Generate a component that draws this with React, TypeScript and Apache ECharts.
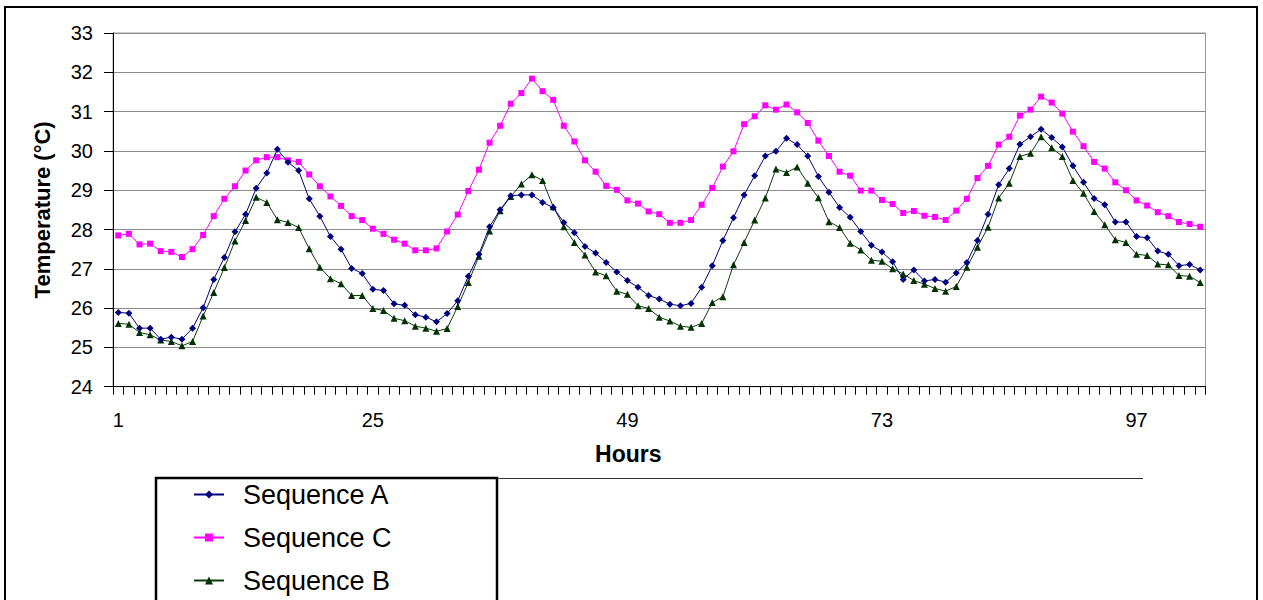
import React, { useEffect, useRef } from "react";
import * as echarts from "echarts";

const hours: string[] = Array.from({ length: 103 }, (_, i) => String(i + 1));

const seqA: number[] = [
  25.89, 25.87, 25.49, 25.49, 25.21, 25.26, 25.21, 25.49, 26.01, 26.73,
  27.29, 27.94, 28.39, 29.05, 29.44, 30.04, 29.71, 29.5, 28.78, 28.34,
  27.82, 27.5, 27.01, 26.88, 26.48, 26.45, 26.11, 26.07, 25.83, 25.77,
  25.65, 25.86, 26.19, 26.81, 27.37, 28.07, 28.5, 28.86, 28.88, 28.88,
  28.69, 28.56, 28.18, 27.92, 27.57, 27.4, 27.16, 26.92, 26.7, 26.53,
  26.32, 26.23, 26.1, 26.06, 26.12, 26.53, 27.08, 27.72, 28.3, 28.88,
  29.37, 29.87, 29.99, 30.32, 30.16, 29.87, 29.35, 28.95, 28.56, 28.31,
  27.95, 27.6, 27.43, 27.18, 26.73, 26.97, 26.69, 26.73, 26.66, 26.89,
  27.16, 27.72, 28.39, 29.14, 29.55, 30.17, 30.36, 30.55, 30.34, 30.1,
  29.62, 29.2, 28.79, 28.63, 28.19, 28.19, 27.82, 27.79, 27.45, 27.37,
  27.08, 27.11, 26.97,
];

const seqC: number[] = [
  27.85, 27.89, 27.62, 27.64, 27.45, 27.43, 27.3, 27.5, 27.86, 28.34,
  28.78, 29.1, 29.5, 29.76, 29.84, 29.84, 29.76, 29.72, 29.4, 29.1,
  28.84, 28.6, 28.34, 28.24, 28.02, 27.89, 27.74, 27.64, 27.47, 27.47,
  27.52, 27.95, 28.38, 28.98, 29.52, 30.21, 30.64, 31.2, 31.47, 31.84,
  31.52, 31.3, 30.64, 30.24, 29.76, 29.47, 29.11, 29.01, 28.74, 28.66,
  28.46, 28.39, 28.17, 28.17, 28.24, 28.63, 29.06, 29.6, 29.99, 30.68,
  30.88, 31.16, 31.05, 31.18, 30.98, 30.71, 30.26, 29.87, 29.47, 29.37,
  28.99, 28.99, 28.75, 28.65, 28.42, 28.47, 28.35, 28.32, 28.24, 28.48,
  28.78, 29.31, 29.62, 30.16, 30.36, 30.9, 31.05, 31.38, 31.23, 30.95,
  30.49, 30.12, 29.72, 29.55, 29.2, 29.0, 28.74, 28.61, 28.44, 28.34,
  28.19, 28.14, 28.07,
];

const seqB: number[] = [
  25.61, 25.59, 25.38, 25.32, 25.19, 25.15, 25.04, 25.15, 25.8, 26.4,
  27.03, 27.71, 28.23, 28.82, 28.69, 28.25, 28.18, 28.05, 27.51, 27.04,
  26.75, 26.62, 26.32, 26.32, 25.99, 25.94, 25.74, 25.68, 25.54, 25.49,
  25.41, 25.48, 26.04, 26.65, 27.32, 27.96, 28.48, 28.84, 29.16, 29.39,
  29.25, 28.58, 28.07, 27.67, 27.35, 26.92, 26.82, 26.43, 26.35, 26.06,
  25.99, 25.77, 25.67, 25.54, 25.51, 25.61, 26.14, 26.29, 27.1, 27.67,
  28.24, 28.8, 29.54, 29.45, 29.59, 29.18, 28.81, 28.2, 28.05, 27.65,
  27.48, 27.22, 27.19, 27.0, 26.87, 26.7, 26.61, 26.5, 26.43, 26.55,
  27.04, 27.55, 28.06, 28.8, 29.18, 29.86, 29.94, 30.36, 30.08, 29.86,
  29.25, 28.92, 28.46, 28.12, 27.74, 27.67, 27.37, 27.34, 27.12, 27.1,
  26.83, 26.81, 26.65,
];

const FONT = "'Liberation Sans', Arial, sans-serif";

export default function App() {
  const ref = useRef<HTMLDivElement>(null);

  useEffect(() => {
    if (!ref.current) return;
    const chart = echarts.init(ref.current, undefined, { renderer: "svg" });
    chart.setOption({
      animation: false,
      backgroundColor: "#ffffff",
      textStyle: { fontFamily: FONT },
      grid: {
        left: 113,
        top: 33,
        right: 57.5,
        bottom: 213.3,
        show: true,
        borderColor: "#999999",
        borderWidth: 1,
        containLabel: false,
      },
      legend: {
        orient: "vertical",
        left: 193,
        top: 481,
        itemWidth: 30,
        itemHeight: 10,
        itemGap: 16,
        padding: 0,
        data: ["Sequence A", "Sequence C", "Sequence B"],
        textStyle: {
          fontFamily: FONT,
          fontSize: 27,
          lineHeight: 27,
          color: "#000",
          padding: [0, 0, 0, 14],
        },
      },
      xAxis: {
        type: "category",
        data: hours,
        boundaryGap: true,
        name: "Hours",
        nameLocation: "middle",
        nameGap: 56,
        nameTextStyle: {
          fontFamily: FONT,
          fontSize: 23,
          fontWeight: "bold",
          color: "#000",
          padding: [0, 62, 0, 0],
        },
        axisLine: { lineStyle: { color: "#000", width: 1 } },
        axisTick: { show: true, interval: 0, length: 8, lineStyle: { color: "#000" } },
        axisLabel: { interval: 23, margin: 23, fontSize: 20, color: "#000", fontFamily: FONT },
        splitLine: { show: false },
      },
      yAxis: {
        type: "value",
        min: 24,
        max: 33,
        interval: 1,
        name: "Temperature (°C)",
        nameLocation: "middle",
        nameGap: 60,
        nameTextStyle: { fontFamily: FONT, fontSize: 22, fontWeight: "bold", color: "#000" },
        axisLine: { show: true, lineStyle: { color: "#000", width: 1 } },
        axisTick: { show: true, length: 9, lineStyle: { color: "#000" } },
        axisLabel: { margin: 20, fontSize: 20, color: "#000", fontFamily: FONT },
        splitLine: { show: true, lineStyle: { color: "#8c8c8c", width: 1 } },
      },
      series: [
        {
          name: "Sequence A",
          type: "line",
          data: seqA,
          symbol: "diamond",
          symbolSize: 7,
          lineStyle: { color: "#000080", width: 1 },
          itemStyle: { color: "#000080" },
          z: 3,
        },
        {
          name: "Sequence C",
          type: "line",
          data: seqC,
          symbol: "rect",
          symbolSize: 6,
          lineStyle: { color: "#ff00ff", width: 1 },
          itemStyle: { color: "#ff00ff" },
          z: 2,
        },
        {
          name: "Sequence B",
          type: "line",
          data: seqB,
          symbol: "triangle",
          symbolSize: 7,
          lineStyle: { color: "#0b3d0b", width: 1 },
          itemStyle: { color: "#003300" },
          z: 2,
        },
      ],
      graphic: [
        {
          type: "rect",
          shape: { x: 5, y: 7, width: 1252, height: 640 },
          style: { fill: "none", stroke: "#000", lineWidth: 2 },
          silent: true,
        },
        {
          type: "rect",
          shape: { x: 156, y: 478, width: 341, height: 160 },
          style: { fill: "none", stroke: "#000", lineWidth: 2.5 },
          silent: true,
        },
        {
          type: "line",
          shape: { x1: 497, y1: 478.5, x2: 1143, y2: 478.5 },
          style: { stroke: "#333", lineWidth: 1 },
          silent: true,
        },
      ],
    });
    return () => chart.dispose();
  }, []);

  return (
    <div
      ref={ref}
      style={{ position: "fixed", left: 0, top: 0, width: "1263px", height: "600px" }}
    />
  );
}
